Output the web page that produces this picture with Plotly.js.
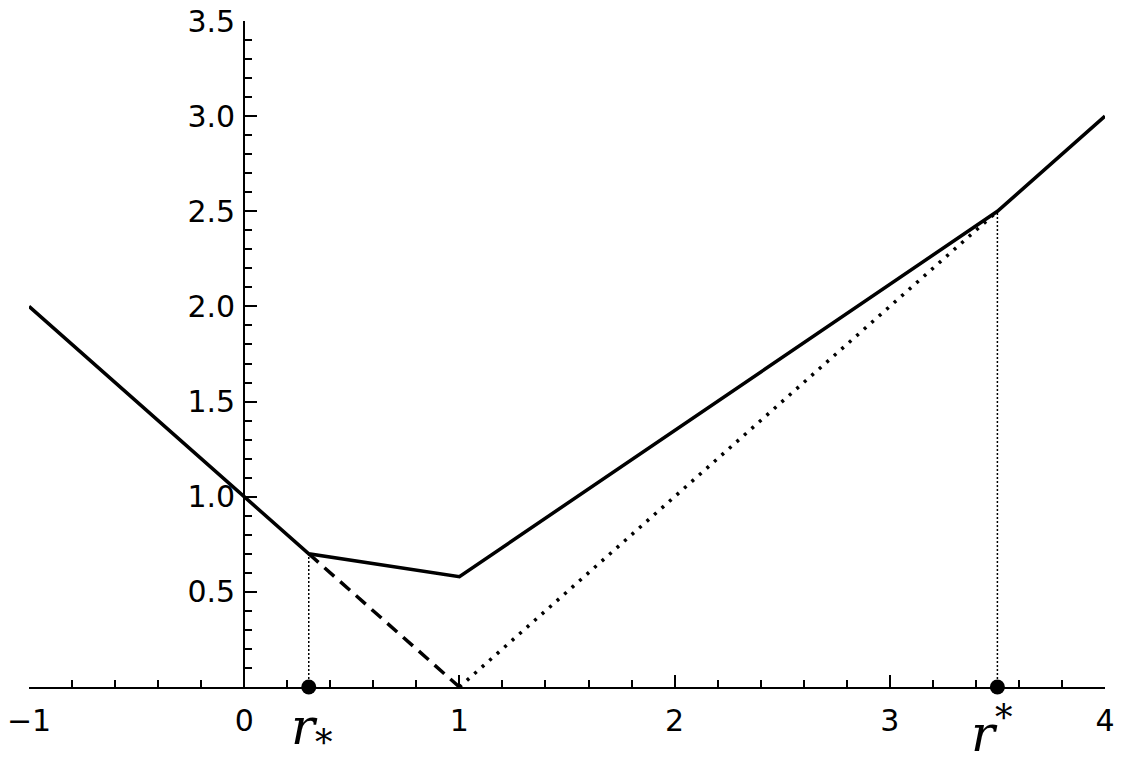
<!DOCTYPE html>
<html>
<head>
<meta charset="utf-8">
<script src="https://cdn.plot.ly/plotly-3.0.1.min.js"></script>
<style>
  html, body { margin: 0; padding: 0; background: #fff; }
  #graf { width: 1123px; height: 767px; }
</style>
</head>
<body>
<div id="graf"></div>
<script>
// datos
const solidoX = [-1, 0, 0.3, 1, 3.5, 4];
const solidoY = [2, 1, 0.7, 0.58, 2.5, 3];

const rayaX = [0.3, 1];
const rayaY = [0.7, 0];

const puntoX = [1, 3.5];
const puntoY = [0, 2.5];

const rMenor = 0.3;   // r_*
const rMayor = 3.5;   // r^*
const alturaMenor = 0.7;
const alturaMayor = 2.5;

const ticksX = [-1, 0, 1, 2, 3, 4];
const textoX = ["\u22121", "0", "1", "2", "3", "4"];
const ticksY = [0.5, 1, 1.5, 2, 2.5, 3, 3.5];
const textoY = ["0.5", "1.0", "1.5", "2.0", "2.5", "3.0", "3.5"];

const negro = "#000";

const datos = [
  {x: [rMenor, rMenor], y: [0, alturaMenor], mode: "lines",
   line: {color: negro, width: 1.5, dash: "2px,2px"}, cliponaxis: false},
  {x: [rMayor, rMayor], y: [0, alturaMayor], mode: "lines",
   line: {color: negro, width: 1.5, dash: "2px,2px"}, cliponaxis: false},
  {x: rayaX, y: rayaY, mode: "lines",
   line: {color: negro, width: 3.5, dash: "13px,8px"}, cliponaxis: false},
  {x: puntoX, y: puntoY, mode: "lines",
   line: {color: negro, width: 3.5, dash: "3px,7px"}, cliponaxis: false},
  {x: solidoX, y: solidoY, mode: "lines",
   line: {color: negro, width: 3.5}, cliponaxis: false},
  {x: [rMenor, rMayor], y: [0, 0], mode: "markers",
   marker: {color: negro, size: 15}, cliponaxis: false}
];

const fuenteTicks = {family: "DejaVu Sans", size: 30, color: negro};

const layout = {
  width: 1123, height: 767,
  margin: {l: 29, r: 18, t: 21, b: 80},
  showlegend: false,
  paper_bgcolor: "#fff", plot_bgcolor: "#fff",
  xaxis: {
    range: [-1, 4], showgrid: false, zeroline: false,
    showline: true, linecolor: negro, linewidth: 2,
    tickmode: "array", tickvals: ticksX, ticktext: textoX,
    ticks: "inside", ticklen: 12, tickwidth: 2, tickcolor: negro,
    minor: {tickmode: "linear", dtick: 0.2, tick0: 0, ticks: "inside", ticklen: 7, tickwidth: 2, tickcolor: negro},
    tickfont: fuenteTicks, ticklabelstandoff: 6
  },
  yaxis: {
    range: [0, 3.5], showgrid: false, zeroline: false,
    anchor: "free", position: 0.2,
    showline: true, linecolor: negro, linewidth: 2,
    tickmode: "array", tickvals: ticksY, ticktext: textoY,
    ticks: "inside", ticklen: 12, tickwidth: 2, tickcolor: negro,
    minor: {tickmode: "linear", dtick: 0.1, tick0: 0, ticks: "inside", ticklen: 7, tickwidth: 2, tickcolor: negro},
    tickfont: fuenteTicks, ticklabelstandoff: 2
  },
  annotations: [
    {x: rMenor, xref: "x", y: -0.066, yref: "paper", xanchor: "left", yanchor: "middle",
     xshift: -20, showarrow: false,
     text: "<i>r</i><sub>*</sub>", font: {family: "DejaVu Serif", size: 50, color: negro}},
    {x: rMayor, xref: "x", y: -0.066, yref: "paper", xanchor: "left", yanchor: "middle",
     xshift: -28, showarrow: false,
     text: "<i>r</i><sup>*</sup>", font: {family: "DejaVu Serif", size: 50, color: negro}}
  ]
};

Plotly.newPlot("graf", datos, layout, {displayModeBar: false, staticPlot: true});
</script>
</body>
</html>
